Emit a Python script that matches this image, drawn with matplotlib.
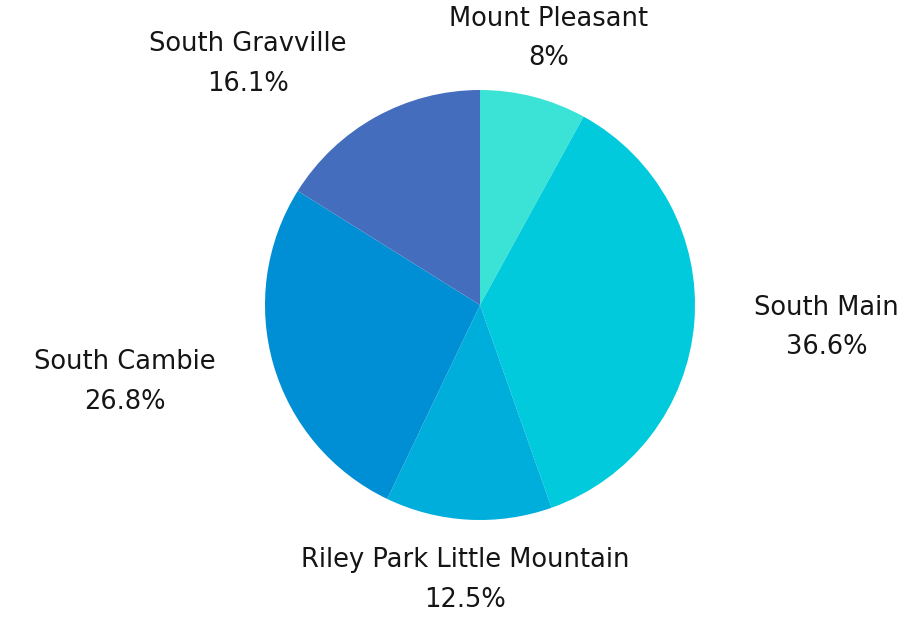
import matplotlib.pyplot as plt

labels = ["Mount Pleasant", "South Main", "Riley Park Little Mountain",
          "South Cambie", "South Gravville"]
shares = [8, 36.6, 12.5, 26.8, 16.1]
colors = ["#3ae3d5", "#00cadb", "#00aedc", "#008fd4", "#446ebd"]

fig = plt.figure(figsize=(9.17, 6.18), dpi=100)
ax = fig.add_axes([0, 0, 1, 1])

# pie radius 1 data unit = 215 px, centre at (480, 305) from top-left
texts = ax.pie(shares, colors=colors, startangle=90, counterclock=False,
               labels=[f"{l}\n{s:g}%" for l, s in zip(labels, shares)],
               labeldistance=1.28,
               textprops=dict(fontsize=18.5, family="DejaVu Sans", color="#151515",
                              multialignment="center", linespacing=1.68))[1]

for t in texts:
    x, y = t.get_position()
    if abs(x) < 0.4:
        t.set_ha("center")

ax.set_aspect("auto")
ax.set_xlim(-480 / 215, (917 - 480) / 215)
ax.set_ylim(-(618 - 305) / 215, 305 / 215)
ax.axis("off")

fig.savefig("out.png", dpi=100, facecolor="white")
